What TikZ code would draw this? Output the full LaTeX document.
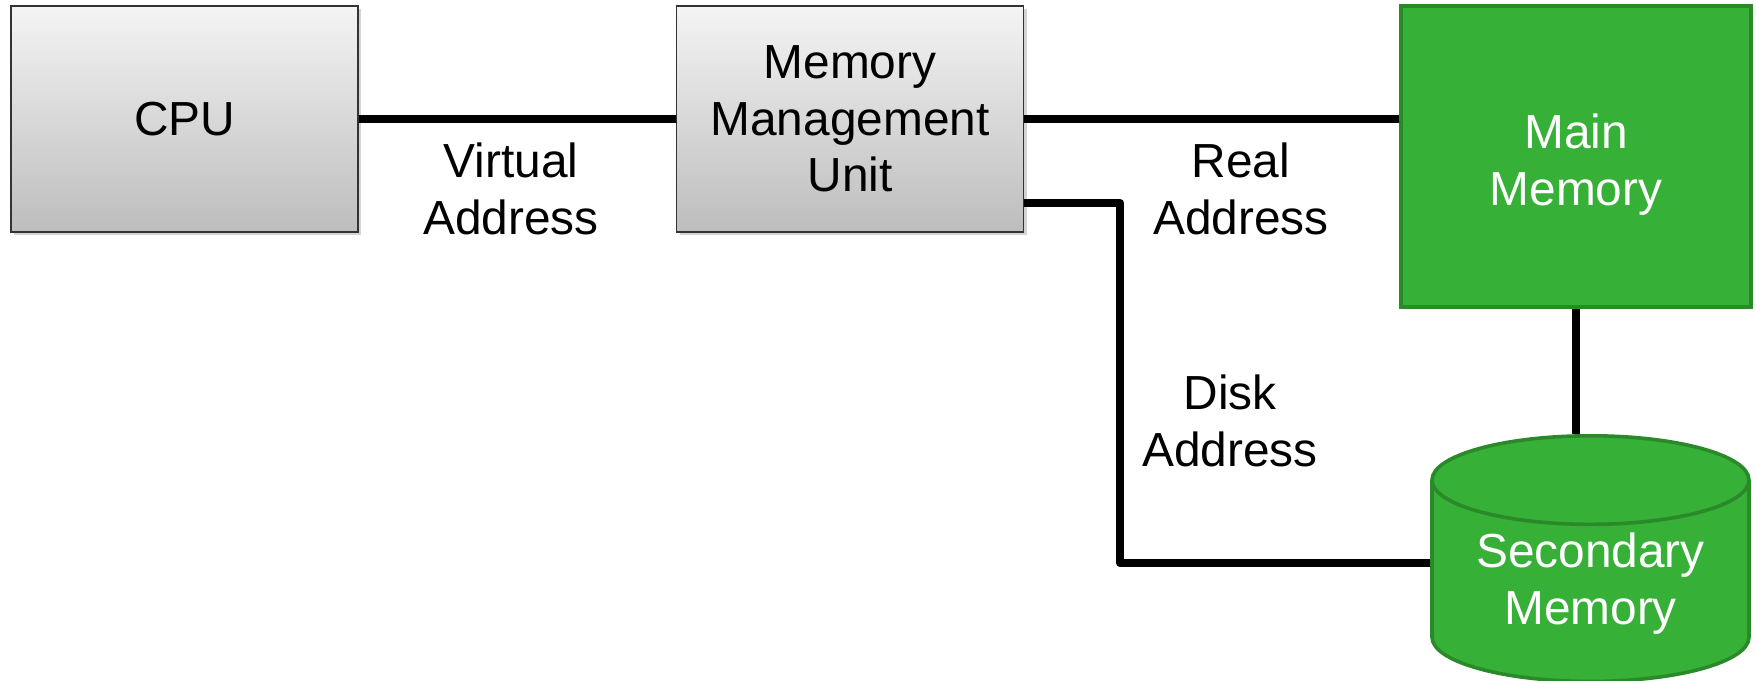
\documentclass[tikz,border=0pt]{standalone}
\usepackage{fontspec}
\setmainfont{Liberation Sans}
\usetikzlibrary{shapes.geometric,shadows}
\definecolor{boxtop}{HTML}{F4F4F4}
\definecolor{boxbottom}{HTML}{BDBDBD}
\definecolor{memgreen}{HTML}{36B036}
\definecolor{memedge}{HTML}{2A8A2A}
\definecolor{disktop}{HTML}{88D088}
\begin{document}
\begin{tikzpicture}[line join=miter,
  graybox/.style={draw=black!80,line width=0.8bp,top color=boxtop,bottom color=boxbottom,
    minimum width=173.5bp,minimum height=113bp,align=center,
    drop shadow={shadow xshift=1.5bp,shadow yshift=-1.5bp,opacity=0.35}},
  greenbox/.style={draw=memedge,line width=1.8bp,fill=memgreen,text=white,align=center},
  label/.style={align=center},
  wire/.style={line width=4.1bp,line join=round,
    preaction={draw,black,opacity=0.15,transform canvas={xshift=1bp,yshift=-1.5bp}}},
  every node/.append style={font=\fontsize{24}{28.5}\selectfont}]
%%
\useasboundingbox (0bp,0bp) rectangle (878bp,340.5bp);
\node (node_cpu) at (92.25bp,281bp) [graybox] {CPU};
  \node (node_mmu) at (425bp,281bp) [graybox] {Memory\\Management\\Unit};
  \node (node_main) at (788bp,262.25bp) [greenbox,minimum width=175bp,minimum height=150.5bp] {\rule{0pt}{25.5bp}Main\\Memory};
  \node (node_disk) at (795.25bp,46.5bp) [greenbox,cylinder,shape border rotate=90,aspect=0.366,
    cylinder uses custom fill,cylinder body fill=memgreen,cylinder end fill=disktop,
    minimum width=158.5bp,minimum height=118bp] {Secondary\\Memory\rule[-9.5bp]{0pt}{9.5bp}};
  \node (node_virtual) at (255.5bp,246bp) [label] {Virtual\\Address};
  \node (node_real) at (620.5bp,246bp) [label] {Real\\Address};
  \node (node_diskaddr) at (615bp,130bp) [label] {Disk\\Address};
  \coordinate (node_bend) at (560bp,59bp);
  \draw [wire] (node_cpu.east) -- (node_mmu.west);
  \draw [wire] (node_mmu.east) -- (node_mmu.east -| node_main.west);
  \draw [wire] ([yshift=15bp]node_mmu.south east) -| (node_bend) -- (node_bend -| node_disk.west);
  \draw [wire] (node_main.south) -- (node_main.south |- node_disk.north);
%
\end{tikzpicture}
\end{document}
